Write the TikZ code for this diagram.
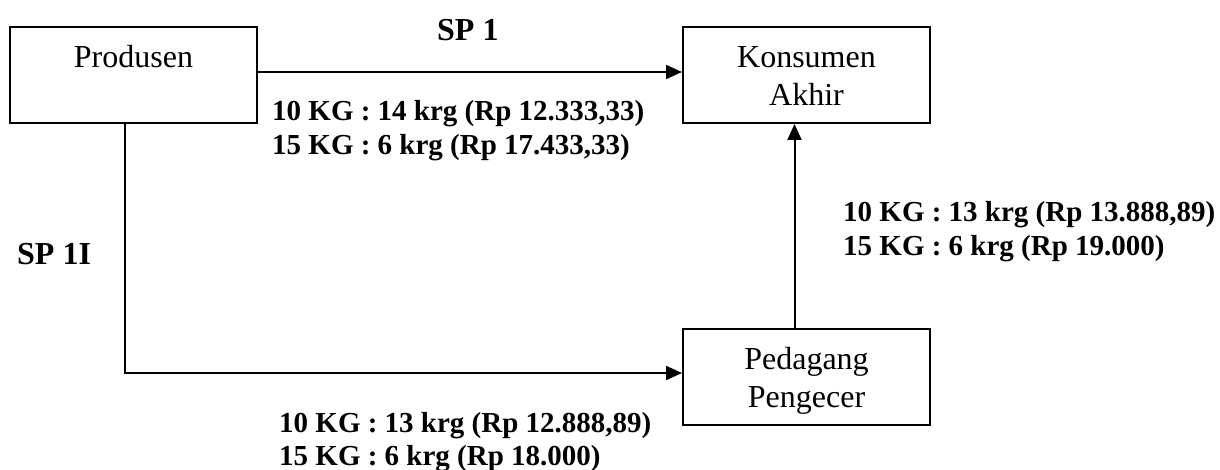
\documentclass[tikz,border=0pt]{standalone}
\usepackage{fontspec}
\setmainfont{Liberation Serif}
\usetikzlibrary{arrows.meta}
\tikzset{
  boxnode/.style={draw, line width=2pt, minimum width=247pt, minimum height=96pt, inner sep=0pt},
  boxtext/.style={anchor=base, inner sep=0pt, font=\fontsize{32}{38}\selectfont},
  lbl/.style={anchor=base west, inner sep=0pt, font=\fontsize{29}{34}\selectfont\bfseries},
  splbl/.style={anchor=base west, inner sep=0pt, font=\fontsize{32}{38}\selectfont\bfseries},
  conn/.style={line width=2pt, -{Triangle[length=16pt,width=14pt]}},
  plainconn/.style={line width=2pt}
}
\begin{document}
\begin{tikzpicture}[x=1pt,y=-1pt]
\useasboundingbox (0,0) rectangle (1220,470);
% boxes
\node[boxnode] (prod) at (133.5,75) {};
\node[boxnode] (kons) at (806.5,75) {};
\node[boxnode] (ped) at (806.5,377) {};
% box texts
\node[boxtext] (prodt) at (133.5,68) {Produsen};
\node[boxtext] (konst1) at (806.5,68) {Konsumen};
\node[boxtext] (konst2) at (806.5,106) {Akhir};
\node[boxtext] (pedt1) at (806.5,369) {Pedagang};
\node[boxtext] (pedt2) at (806.5,407) {Pengecer};
% connectors
\draw[conn] ([yshift=3pt]prod.east) -- ([yshift=3pt]kons.west);
\draw[conn] ([xshift=-12pt]ped.north) -- ([xshift=-12pt]kons.south);
\coordinate (corner) at (125,373);
\draw[plainconn] ([xshift=-8.5pt]prod.south) -- (corner);
\draw[conn] ([xshift=-1pt]corner) -- ([yshift=4pt]ped.west);
% labels
\node[splbl] (sp1) at (437,41) {SP 1};
\node[splbl] (sp2) at (17,265) {SP 1I};
\node[lbl] (a1) at (272,121) {10 KG : 14 krg (Rp 12.333,33)};
\node[lbl] (a2) at (272,155) {15 KG : 6 krg (Rp 17.433,33)};
\node[lbl] (b1) at (843,222) {10 KG : 13 krg (Rp 13.888,89)};
\node[lbl] (b2) at (843,256) {15 KG : 6 krg (Rp 19.000)};
\node[lbl] (c1) at (279,432) {10 KG : 13 krg (Rp 12.888,89)};
\node[lbl] (c2) at (279,465) {15 KG : 6 krg (Rp 18.000)};
\end{tikzpicture}
\end{document}
